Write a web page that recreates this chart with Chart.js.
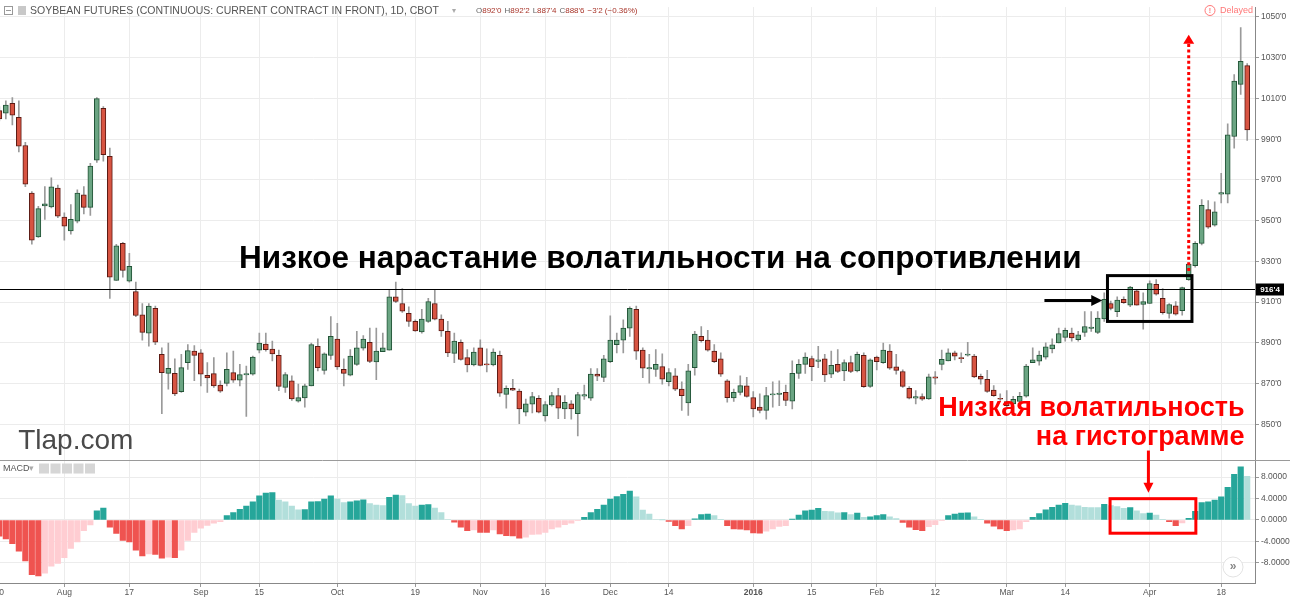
<!DOCTYPE html>
<html>
<head>
<meta charset="utf-8">
<script src="https://cdn.jsdelivr.net/npm/chart.js@4.4.0/dist/chart.umd.min.js"></script>
<style>
html, body { margin: 0; padding: 0; background: #fff; }
#wrap { position: relative; width: 1290px; height: 602px; }
</style>
</head>
<body>
<div id="wrap"><canvas id="chart" width="1290" height="602"></canvas></div>
<script>
// ==================== DATA: daily candles, Jul 20 2015 .. Apr 22 2016 ====================
const opens = [
  1004, 1002.8, 1007.6, 1000.7, 986.9, 963.5, 942, 957.2, 956.7, 966,
  951.7, 944.9, 949.7, 962.7, 956.5, 979.7, 1005.2, 981.6, 920.6, 938.8,
  920.3, 915.2, 903.8, 894.8, 906.9, 884.3, 875, 875, 866, 880.2,
  885.9, 885.1, 874.1, 874.9, 869.2, 870.1, 875.4, 871.7, 874.3, 874.6,
  886.4, 889.4, 886.9, 883.8, 868.1, 871.4, 861.3, 862.9, 868.9, 888.3,
  876.5, 883.8, 891.9, 877, 874.1, 879.4, 887.4, 890.3, 880.6, 885.7,
  886.4, 912.6, 909.3, 904.5, 900.5, 895.3, 900.5, 909.3, 901.6, 895.6,
  884.8, 890.3, 882.7, 879.1, 887.5, 879.7, 879.1, 883.8, 864.7, 867.6,
  866.3, 856, 859.9, 862.8, 854.1, 859.5, 864.1, 857.6, 860, 855.2,
  863.8, 862.8, 874.6, 873, 880.7, 889.1, 891.3, 897.2, 906.4, 886.4,
  877.2, 877, 878.3, 870.9, 873.8, 867.3, 860.5, 877.8, 893.2, 891.3,
  885.9, 882.2, 871.4, 862.9, 865.7, 868.9, 863.1, 858.4, 856.8, 864.4,
  864.7, 865.7, 861.3, 875, 879.4, 882.3, 880.9, 882.2, 874.6, 879.4,
  876.2, 880.3, 876.2, 883.8, 868.6, 883, 880.3, 885.9, 878.2, 875.9,
  867.6, 862.8, 863.6, 862.5, 873.3, 879.4, 881.1, 885.1, 882.7, 884,
  883.5, 873.5, 872.1, 866.8, 862.8, 861.2, 860, 861.2, 863.8, 880.3,
  881, 883, 887, 889.9, 892.7, 894.8, 891.5, 895.1, 897.1, 895.1,
  901.7, 909.3, 905.3, 911.3, 908.5, 915.5, 908.8, 909.3, 918.7, 911.8,
  904.5, 908.2, 905.8, 921, 927.9, 938.8, 955.4, 947.8, 963, 963,
  991.3, 1016.9, 1026.1
];
const highs = [
  1006, 1008.8, 1010.4, 1008.8, 988.5, 964.3, 957, 966.7, 971, 967.5,
  953.8, 957.9, 965.1, 966.7, 978.1, 1010.4, 1006, 985.6, 938.4, 939.3,
  933.9, 919.8, 909.3, 909.3, 908, 887.5, 889.9, 882.2, 884.3, 889.1,
  888.6, 886.7, 880.3, 882.7, 871.4, 885.1, 885.9, 879.4, 878.6, 883.5,
  894.8, 894.8, 890.8, 886.4, 875.4, 873.8, 869.7, 869.7, 889.9, 892,
  885.1, 902.9, 899.6, 882.2, 886.7, 895.6, 893.5, 897.2, 897.2, 894.8,
  915.8, 919.8, 916.6, 907.7, 901.3, 906.4, 911.8, 916.1, 903.7, 900.5,
  894.8, 891.5, 886.7, 887.5, 891.5, 887, 887, 885.9, 868.9, 872.1,
  867.3, 862.4, 865.7, 864.1, 861.2, 865.7, 867.6, 864.1, 861.7, 865.7,
  869.2, 877.3, 877.3, 883.8, 903.2, 894.8, 901.3, 907.7, 908, 887.5,
  884.3, 886.7, 884.6, 877.3, 877.3, 870.9, 879.4, 895.6, 898, 896.1,
  889.1, 885.1, 871.9, 867.3, 873.8, 873, 866, 864.9, 868.1, 870.9,
  871.4, 869.2, 881.1, 881.8, 885.1, 883.5, 888.3, 884.3, 885.9, 886.7,
  881.6, 883.5, 885.4, 885.1, 882.2, 883.5, 889.9, 889.1, 884.3, 876.7,
  868.5, 866.5, 864.9, 874.6, 875.9, 886.4, 887, 885.9, 885.1, 890.3,
  884.3, 874.6, 876.5, 869, 864.9, 866.5, 863.7, 865.7, 879.4, 887.5,
  886, 890, 892, 897.2, 897.2, 897.2, 895.6, 905.3, 905.3, 905.3,
  914.5, 910.5, 912.6, 912.6, 917.7, 916.1, 914.5, 920.4, 921, 916.6,
  909.3, 910.2, 917.4, 929.1, 939.7, 960.3, 959.8, 959.2, 973.2, 997.5,
  1021.7, 1044.8, 1027.1
];
const lows = [
  999, 999.9, 997, 983.7, 966.7, 938.4, 941.7, 950.6, 956.2, 951.4,
  940.4, 943.3, 948.9, 953.3, 952.6, 978.6, 979.2, 911.8, 920.6, 922.3,
  919.8, 902.9, 891.3, 888.3, 889.1, 855.2, 867.3, 864.1, 865.7, 877,
  871.4, 868.9, 865.7, 868.1, 865.7, 868.9, 870.5, 868.9, 853.9, 874.1,
  885.1, 885.9, 881.1, 866.5, 865.7, 861.7, 860.9, 858.4, 868.9, 876.2,
  874.6, 881.8, 877, 868.9, 873.8, 878.9, 886.4, 880.3, 871.9, 885.7,
  886.4, 909.7, 904.9, 898, 895.6, 894.8, 900, 901.3, 893.2, 883.2,
  880.3, 881.5, 875.7, 878.6, 878.6, 875.7, 878.6, 863.7, 857.9, 866.5,
  850.3, 854.1, 855.6, 855.6, 851.5, 858.9, 852.7, 852.7, 852.5, 844.3,
  862.2, 861.7, 871.4, 870.9, 880.3, 885.1, 885.1, 893.2, 881.8, 872.9,
  870.2, 873.5, 869.7, 868.9, 866.5, 856.8, 854.4, 874.1, 890.3, 885.9,
  880.3, 873.5, 860.9, 861.2, 864.4, 863.3, 853.6, 855.6, 852.5, 858.4,
  859.2, 859.2, 857.6, 872.5, 875, 871.4, 877.8, 870.9, 872.9, 875.4,
  871.4, 875.4, 875.7, 868.1, 868.1, 876.7, 879.9, 877, 874.6, 868.1,
  862.5, 860, 861.7, 862.2, 869.7, 876.7, 881.1, 881.6, 880.3, 883.5,
  872.9, 869.7, 865.7, 863.7, 861.7, 858.4, 857.6, 860.5, 863.3, 880.3,
  879, 882, 885, 889.9, 890.8, 890.8, 890.8, 893.2, 895.6, 894.5,
  900.5, 906.1, 902.9, 909.3, 907.7, 908.5, 896.7, 909.3, 913.4, 904.1,
  902.1, 903.6, 903.6, 920.6, 927.1, 938.1, 946.2, 947.3, 958.7, 958.7,
  985.6, 1012, 989.4
];
const closes = [
  1000, 1006.8, 1001.8, 986.6, 967.9, 940.4, 955.9, 958.2, 966.6, 952.2,
  947.3, 950.6, 963.5, 956.5, 976.8, 1009.9, 982.4, 922.3, 937.6, 925.5,
  927.6, 903.4, 895.1, 908, 890.3, 875.4, 877.5, 864.9, 877.8, 886.2,
  883.8, 874.6, 872.8, 868.9, 866.3, 877, 871.7, 874.4, 874.9, 883,
  889.9, 886.7, 884.5, 868.6, 874.4, 862.5, 863.1, 868.9, 889.1, 877.8,
  884.6, 893.2, 878.2, 875, 883.5, 887.5, 891.9, 880.9, 885.9, 887.5,
  912.6, 910.3, 905.5, 900.5, 895.9, 901.6, 910.2, 901.6, 895.9, 885.1,
  890.8, 881.8, 879.1, 885.4, 878.9, 879.2, 885.4, 865.3, 867.6, 866.8,
  857.6, 860, 863.6, 856, 859.7, 864.1, 857.9, 860.8, 857.6, 864.6,
  864.6, 874.6, 873.6, 882.2, 891.3, 891.3, 897.2, 906.9, 885.9, 877.5,
  877.8, 879.4, 872.1, 875.4, 867.3, 864.1, 876.2, 894.3, 891, 886.4,
  880.7, 874.6, 863.1, 865.7, 869, 863.7, 857.6, 856.8, 864.1, 864.9,
  865.3, 861.7, 875, 879.4, 883, 878.3, 881.6, 874.3, 878.9, 875.9,
  880.3, 875.9, 884.3, 868.5, 881.6, 880.7, 886.4, 877.5, 876.5, 868.6,
  862.8, 863.6, 862.3, 873.3, 872.6, 881.9, 885.1, 883.5, 882.2, 884.5,
  873.3, 872.1, 866.2, 864.1, 862.3, 859.2, 862.2, 863.7, 878.6, 881.6,
  884, 888, 889, 894.5, 896.1, 892.4, 893.9, 898, 897.7, 902.1,
  911.3, 906.9, 911, 909.7, 917.4, 908.5, 910.2, 919.1, 913.9, 904.8,
  908.8, 904.1, 917.1, 928.7, 938.8, 957.5, 946.8, 954.3, 963.8, 992.1,
  1018.5, 1028.2, 994.6
];
// MACD histogram, one bar per candle
const macdHist = [
  -3.0, -3.5, -4.4, -5.8, -7.6, -10.2, -10.4, -9.9, -8.6, -8.1,
  -7.0, -5.3, -4.1, -2.0, -0.9, 1.7, 2.2, -1.35, -2.5, -3.8,
  -4.1, -5.6, -6.7, -6.3, -6.4, -7.1, -6.9, -7.0, -5.6, -3.8,
  -2.3, -1.5, -1.0, -0.6, -0.3, 0.8, 1.4, 2.0, 2.6, 3.4,
  4.5, 5.0, 5.1, 3.7, 3.4, 2.6, 1.9, 1.95, 3.4, 3.45,
  3.9, 4.5, 3.9, 3.25, 3.4, 3.55, 3.75, 3.05, 2.8, 2.7,
  4.2, 4.65, 4.55, 3.05, 2.6, 2.8, 2.85, 2.2, 1.4, 0.1,
  -0.4, -1.35, -2.0, -1.85, -2.3, -2.32, -1.85, -2.6, -2.9, -2.95,
  -3.4, -3.2, -2.7, -2.65, -2.3, -1.65, -1.35, -0.85, -0.6, -0.05,
  0.5, 1.4, 2.0, 2.8, 3.9, 4.35, 4.8, 5.4, 4.3, 1.85,
  1.1, 0.1, 0.02, -0.25, -1.05, -1.65, -1.05, 0.2, 1.0, 1.1,
  0.8, 0.05, -1.05, -1.65, -1.7, -1.85, -2.4, -2.45, -2.1, -1.65,
  -1.2, -1.05, 0.15, 0.9, 1.7, 1.85, 2.15, 1.6, 1.58, 1.35,
  1.4, 1.0, 1.3, 0.5, 0.6, 0.8, 1.0, 0.6, 0.25, -0.45,
  -1.35, -1.8, -2.0, -1.25, -0.85, -0.05, 0.8, 1.1, 1.3, 1.32,
  0.6, 0.05, -0.6, -1.15, -1.65, -2.0, -1.85, -1.65, -0.3, 0.5,
  1.2, 1.9, 2.35, 2.8, 3.1, 2.8, 2.65, 2.35, 2.33, 2.3,
  2.9, 2.7, 2.5, 2.15, 2.3, 1.7, 1.2, 1.3, 0.9, 0.05,
  -0.3, -1.05, -0.55, 0.3, 1.6, 3.25, 3.4, 3.7, 4.3, 6.1,
  8.5, 9.9, 8.15
];

const priceTicks = [1050, 1040, 1030, 1020, 1010, 1000, 990, 980, 970, 960, 950, 940, 930, 920, 910, 900, 890, 880, 870, 860, 850, 840];
const macdTicks = [8, 4, 0, -4, -8];
const dateTickPos = [0, 10, 20, 31, 40, 52, 64, 74, 84, 94, 103, 116, 125, 135, 144, 155, 164, 177, 188];
const dateTickLabels = ["20", "Aug", "17", "Sep", "15", "Oct", "19", "Nov", "16", "Dec", "14", "2016", "15", "Feb", "12", "Mar", "14", "Apr", "18"];
const lastPrice = 916.5;

// quotes are in cents and eighths: 916.5 -> 916'4
const fmtPrice = v => {
  const whole = Math.floor(v);
  return whole + "'" + Math.round((v - whole) * 8);
};

const UP = "#6ba583", UP_BORDER = "#225437";
const DOWN = "#d75442", DOWN_BORDER = "#5b1a13";
const FONT = "'Liberation Sans', Arial, sans-serif";

const isUp = opens.map((o, i) => closes[i] >= o);
const wicks = opens.map((o, i) => ({ x: i, y: [lows[i], highs[i]] }));
const bodies = opens.map((o, i) => ({ x: i, y: [Math.min(o, closes[i]), Math.max(o, closes[i])] }));
const histColors = macdHist.map((v, i) => {
  const prev = i > 0 ? macdHist[i - 1] : 0;
  if (v >= 0) return v > prev ? "#26a69a" : "#b2dfdb";
  return v < prev ? "#ef5350" : "#ffcdd2";
});

// ==================== OVERLAY: drawings and chart chrome ====================
function arrowHead(ctx, tipX, tipY, dx, dy, len, half) {
  // triangle pointing in direction (dx, dy)
  const bx = tipX - dx * len, by = tipY - dy * len;
  ctx.beginPath();
  ctx.moveTo(tipX, tipY);
  ctx.lineTo(bx - dy * half, by + dx * half);
  ctx.lineTo(bx + dy * half, by - dx * half);
  ctx.closePath();
  ctx.fill();
}

const overlay = {
  id: "overlay",
  afterDatasetsDraw(chart) {
    const { ctx, chartArea: area } = chart;
    const { x, y, m } = chart.scales;
    ctx.save();

    // pane separator
    ctx.strokeStyle = "#9a9a9a";
    ctx.lineWidth = 1;
    ctx.beginPath();
    ctx.moveTo(0, Math.round(y.bottom) + 0.5);
    ctx.lineTo(chart.width, Math.round(y.bottom) + 0.5);
    ctx.stroke();

    // resistance line
    const ly = Math.round(y.getPixelForValue(lastPrice)) + 0.5;
    ctx.strokeStyle = "#000";
    ctx.beginPath();
    ctx.moveTo(area.left, ly);
    ctx.lineTo(area.right, ly);
    ctx.stroke();

    // last price tag
    ctx.fillStyle = "#000";
    ctx.fillRect(area.right + 1, ly - 6, 28, 12);
    ctx.fillStyle = "#fff";
    ctx.font = "bold 8px " + FONT;
    ctx.textAlign = "center";
    ctx.textBaseline = "middle";
    ctx.fillText(fmtPrice(lastPrice), area.right + 15, ly);

    // box around the squeeze candles
    ctx.strokeStyle = "#000";
    ctx.lineWidth = 3;
    const bx0 = x.getPixelForValue(170.5), bx1 = x.getPixelForValue(183.5);
    const by0 = y.getPixelForValue(923), by1 = y.getPixelForValue(900.5);
    ctx.strokeRect(bx0, by0, bx1 - bx0, by1 - by0);

    // black arrow pointing at the box
    const ay = y.getPixelForValue(910.8);
    const ax0 = x.getPixelForValue(160.8), ax1 = x.getPixelForValue(169.7);
    ctx.beginPath();
    ctx.moveTo(ax0, ay);
    ctx.lineTo(ax1 - 8, ay);
    ctx.stroke();
    ctx.fillStyle = "#000";
    arrowHead(ctx, ax1, ay, 1, 0, 11, 5.5);

    // red dotted breakout arrow
    const rx = x.getPixelForValue(183);
    ctx.strokeStyle = "#f00";
    ctx.fillStyle = "#f00";
    ctx.lineWidth = 3;
    ctx.setLineDash([3, 2.6]);
    ctx.beginPath();
    ctx.moveTo(rx, y.getPixelForValue(925.3));
    ctx.lineTo(rx, y.getPixelForValue(1036.9));
    ctx.stroke();
    ctx.setLineDash([]);
    arrowHead(ctx, rx, y.getPixelForValue(1041.3), 0, -1, 9, 5.5);

    // red box on the histogram
    const mx0 = x.getPixelForValue(170.9), mx1 = x.getPixelForValue(184.1);
    const my0 = m.getPixelForValue(3.97), my1 = m.getPixelForValue(-2.46);
    ctx.strokeRect(mx0, my0, mx1 - mx0, my1 - my0);

    // red arrow down to the histogram box
    const dx = x.getPixelForValue(176.8);
    const tip = m.getPixelForValue(5.07);
    ctx.beginPath();
    ctx.moveTo(dx, y.getPixelForValue(837.1));
    ctx.lineTo(dx, tip - 7);
    ctx.stroke();
    arrowHead(ctx, dx, tip, 0, 1, 10, 5);

    // captions
    ctx.textBaseline = "middle";
    ctx.fillStyle = "#000";
    ctx.textAlign = "center";
    ctx.font = "bold 31.5px " + FONT;
    ctx.fillText("Низкое нарастание волатильности на сопротивлении", x.getPixelForValue(101.7), y.getPixelForValue(931.2));

    ctx.fillStyle = "#f00";
    ctx.textAlign = "right";
    ctx.font = "bold 27px " + FONT;
    ctx.fillText("Низкая волатильность", x.getPixelForValue(191.6), y.getPixelForValue(857.9));
    ctx.fillText("на гистограмме", x.getPixelForValue(191.6), y.getPixelForValue(843.4));

    ctx.fillStyle = "#4a4a4a";
    ctx.textAlign = "left";
    ctx.font = "28px " + FONT;
    ctx.fillText("Tlap.com", x.getPixelForValue(2.9), y.getPixelForValue(841.5));

    // header
    ctx.strokeStyle = "#999";
    ctx.lineWidth = 1;
    ctx.strokeRect(4.5, 6.5, 8, 8);
    ctx.beginPath(); ctx.moveTo(6, 10.5); ctx.lineTo(11, 10.5); ctx.stroke();
    ctx.fillStyle = "#c8c8c8";
    ctx.fillRect(18, 6, 8, 9);
    ctx.font = "10.5px " + FONT;
    ctx.fillStyle = "#555";
    ctx.fillText("SOYBEAN FUTURES (CONTINUOUS: CURRENT CONTRACT IN FRONT), 1D, CBOT", 30, 11);
    ctx.fillStyle = "#aaa";
    ctx.font = "8px " + FONT;
    ctx.fillText("\u25BE", 452, 11);
    ctx.font = "8px " + FONT;
    let hx = 476;
    [["O", "892'0"], ["H", "892'2"], ["L", "887'4"], ["C", "888'6"], ["", "\u22123'2 (\u22120.36%)"]].forEach(([k, v]) => {
      ctx.fillStyle = "#666";
      ctx.fillText(k, hx, 11);
      hx += ctx.measureText(k).width;
      ctx.fillStyle = "#a8352a";
      ctx.fillText(v, hx, 11);
      hx += ctx.measureText(v).width + 3;
    });

    // delayed badge
    ctx.strokeStyle = "#f77";
    ctx.fillStyle = "#f77";
    ctx.beginPath(); ctx.arc(1210, 10.5, 5, 0, Math.PI * 2); ctx.stroke();
    ctx.font = "bold 7px " + FONT;
    ctx.textAlign = "center";
    ctx.fillText("!", 1210, 11);
    ctx.font = "9px " + FONT;
    ctx.textAlign = "left";
    ctx.fillText("Delayed", 1220, 11);

    // MACD pane title and buttons
    ctx.fillStyle = "#555";
    ctx.font = "9px " + FONT;
    ctx.fillText("MACD", 3, m.top + 9);
    ctx.fillStyle = "#aaa";
    ctx.fillText("\u25BE", 29, m.top + 9);
    ctx.fillStyle = "#d6d6d6";
    for (let k = 0; k < 5; k++) ctx.fillRect(39 + k * 11.5, m.top + 4, 10, 10);

    // scroll button
    ctx.fillStyle = "#fff";
    ctx.strokeStyle = "#e2e2e2";
    ctx.beginPath(); ctx.arc(1233, 567, 10, 0, Math.PI * 2); ctx.fill(); ctx.stroke();
    ctx.fillStyle = "#888";
    ctx.font = "bold 12px " + FONT;
    ctx.textAlign = "center";
    ctx.fillText("\u00BB", 1233, 567);

    ctx.restore();
  }
};

// ==================== CHART ====================
const axisFont = { family: FONT, size: 8.5 };
const gridColor = "#ececec";

new Chart(document.getElementById("chart").getContext("2d"), {
  type: "bar",
  data: {
    datasets: [
      {
        label: "wick", data: wicks, yAxisID: "y", order: 2, grouped: false,
        backgroundColor: "#9a9a9a", barThickness: 1
      },
      {
        label: "body", data: bodies, yAxisID: "y", order: 1, grouped: false,
        backgroundColor: isUp.map(u => u ? UP : DOWN),
        borderColor: isUp.map(u => u ? UP_BORDER : DOWN_BORDER),
        borderWidth: 1, borderSkipped: false, barThickness: 5, minBarLength: 1
      },
      {
        label: "MACD", data: macdHist.map((v, i) => ({ x: i, y: v })), yAxisID: "m", order: 0, grouped: false,
        backgroundColor: histColors, barThickness: 5.5
      }
    ]
  },
  options: {
    responsive: false,
    animation: false,
    layout: { padding: 0, autoPadding: false },
    plugins: { legend: { display: false }, tooltip: { enabled: false } },
    scales: {
      x: {
        type: "linear", position: "bottom", min: 0.1, max: 193.2, offset: false,
        grid: { color: gridColor, tickLength: 4, tickColor: "#999", offset: false },
        border: { color: "#888" },
        afterBuildTicks: s => { s.ticks = dateTickPos.map(v => ({ value: v })); },
        ticks: {
          autoSkip: false, maxRotation: 0, padding: 1, color: "#555",
          font: c => ({ family: FONT, size: 8.5, weight: c.tick && c.tick.value === 116 ? "bold" : "normal" }),
          callback: v => dateTickLabels[dateTickPos.indexOf(v)]
        },
        afterFit: s => { s.height = 19; s.paddingLeft = 0; s.paddingRight = 0; }
      },
      y: {
        type: "linear", position: "right", stack: "panes", stackWeight: 458,
        min: 832.7, max: 1054.85,
        grid: { color: gridColor, tickLength: 4, tickColor: "#999" },
        border: { color: "#888" },
        afterBuildTicks: s => { s.ticks = priceTicks.map(v => ({ value: v })); },
        ticks: { color: "#555", padding: 2, font: axisFont, callback: v => fmtPrice(v) },
        afterFit: s => { s.width = 35; }
      },
      m: {
        type: "linear", position: "right", stack: "panes", stackWeight: 125,
        min: -11.73, max: 11.26,
        grid: { color: gridColor, tickLength: 4, tickColor: "#999" },
        border: { color: "#888" },
        afterBuildTicks: s => { s.ticks = macdTicks.map(v => ({ value: v })); },
        ticks: { color: "#555", padding: 2, font: axisFont, callback: v => v.toFixed(4) },
        afterFit: s => { s.width = 35; }
      }
    }
  },
  plugins: [overlay]
});
</script>
</body>
</html>
